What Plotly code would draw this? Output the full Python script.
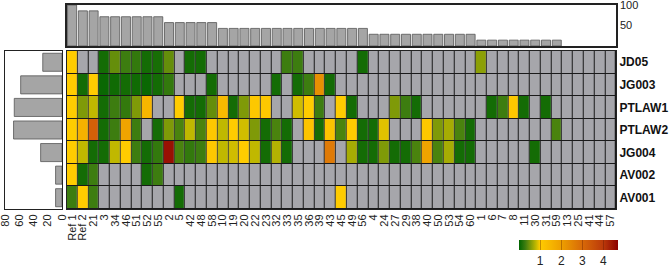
import plotly.graph_objects as go

columns = ["Ref 1", "Ref 2", "21", "3", "34", "46", "51", "52", "55", "2", "5", "42", "48", "58",
           "10", "19", "20", "22", "23", "32", "33", "35", "36", "39", "43", "45", "49", "56",
           "4", "24", "27", "29", "38", "40", "50", "53", "54", "60",
           "1", "6", "7", "8", "11", "30", "31", "59", "13", "25", "41", "44", "57"]
strains = ["JD05", "JG003", "PTLAW1", "PTLAW2", "JG004", "AV002", "AV001"]

N = None
jd05 = [1.0, N, N, 0.1, 0.45, 0.3, 0.25, 0.1, 0.12, 0.45, N, 0.1, 0.1, N,
        N, N, N, N, N, N, 0.3, 0.3, N, N, N, N, N, 0.1,
        N, N, N, N, N, N, N, N, N, N,
        0.6, N, N, N, N, N, N, N, N, N, N, N, N]
jg003 = [1.0, 0.1, 1.0, 0.05, 0.08, 0.1, 0.08, 0.05, 0.1, 0.25, N, N, N, 0.1,
         N, N, N, N, N, 0.1, N, 0.1, 0.3, 2.3, 0.1, N, N, N,
         N, N, N, N, N, N, N, N, N, N,
         N, N, N, N, N, N, N, N, N, N, N, N, N]
ptlaw1 = [1.0, 0.55, 0.8, 0.1, 0.3, 0.25, 0.55, 1.5, N, N, 1.0, 0.1, 0.1, 0.45,
          1.4, 0.1, 0.55, 1.1, 1.1, N, N, 0.85, 1.0, 0.3, N, 1.0, 0.1, N,
          N, N, 0.55, 0.3, 0.1, N, N, N, N, N,
          N, 0.1, 0.3, 1.1, 0.1, N, 0.1, N, N, N, N, N, N]
ptlaw2 = [1.0, 1.6, 3.2, 0.1, 0.3, 1.9, 0.3, N, 0.1, 0.55, 0.35, 0.8, 0.35, 1.1,
          0.8, 1.0, 0.85, 0.55, 0.1, 0.35, 0.1, N, 1.2, 0.1, 1.2, 0.35, 1.0, 0.1,
          0.1, 0.9, N, N, N, 1.1, 0.55, 0.7, 0.35, 0.1,
          N, N, N, N, N, N, N, 0.35, N, N, N, N, N]
jg004 = [1.0, 0.8, 0.1, 0.1, 0.8, 1.0, 0.3, 0.1, 0.25, 4.5, 0.35, 0.25, 0.3, 1.1,
         0.8, 0.85, 1.0, 0.8, 0.1, 0.75, 0.1, N, N, N, 2.7, N, 0.7, 0.1,
         0.1, 0.55, 0.1, 0.1, 0.35, 1.9, 0.35, 0.7, 0.1, 0.1,
         N, N, N, N, N, 0.1, N, N, N, N, N, N, N]
av002 = [1.0, 0.1, 0.3, N, N, N, N, 0.1, 0.3, N, N, N, N, N,
         N, N, N, N, N, N, N, N, N, N, N, N, N, N,
         N, N, N, N, N, N, N, N, N, N,
         N, N, N, N, N, N, N, N, N, N, N, N, N]
av001 = [0.3, 1.0, 0.3, N, N, N, N, N, N, N, 0.1, N, N, N,
         N, N, N, N, N, N, N, N, N, N, N, 1.0, N, N,
         N, N, N, N, N, N, N, N, N, N,
         N, N, N, N, N, N, N, N, N, N, N, N, N]

# column occupancy (%) shown above the heatmap; last five columns have no bar
top_values = [100, 85.7, 85.7, 71.4, 71.4, 71.4, 71.4, 71.4, 71.4,
              57.1, 57.1, 57.1, 57.1, 57.1,
              42.9, 42.9, 42.9, 42.9, 42.9, 42.9, 42.9, 42.9, 42.9, 42.9, 42.9, 42.9, 42.9, 42.9,
              28.6, 28.6, 28.6, 28.6, 28.6, 28.6, 28.6, 28.6, 28.6, 28.6,
              14.3, 14.3, 14.3, 14.3, 14.3, 14.3, 14.3, 14.3,
              N, N, N, N, N]
left_values = [27, 58, 67, 68, 30, 9, 9]

zrows = [jd05, jg003, ptlaw1, ptlaw2, jg004, av002, av001]
xi = list(range(len(columns)))
yi = list(range(len(strains)))

colorscale = [
    [0.0, "#006400"],
    [0.3 / 4.7, "#3d7d10"],
    [0.55 / 4.7, "#7f9a08"],
    [0.8 / 4.7, "#c0b800"],
    [1.0 / 4.7, "#ffcc00"],
    [2.0 / 4.7, "#eea000"],
    [3.0 / 4.7, "#d86a08"],
    [4.0 / 4.7, "#bb3a0a"],
    [1.0, "#8b0000"],
]

FONT = "Liberation Sans, Arial, sans-serif"
fig = go.Figure()

# grey base layer
fig.add_trace(go.Heatmap(
    x=xi, y=yi, z=[[1] * len(columns) for _ in strains],
    colorscale=[[0, "#a6a6ab"], [1, "#a6a6ab"]], showscale=False,
    xgap=1, ygap=1, hoverinfo="skip", xaxis="x", yaxis="y"))

fig.add_trace(go.Heatmap(
    x=xi, y=yi, z=zrows, zmin=0, zmax=4.7, colorscale=colorscale,
    xgap=1, ygap=1, xaxis="x", yaxis="y",
    colorbar=dict(orientation="h", x=0.85, xanchor="center", y=1 - 240 / 267, yanchor="top",
                  len=0.148, lenmode="fraction", thickness=10, outlinewidth=0,
                  xpad=0, ypad=0,
                  tickvals=[1, 2, 3, 4], ticks="inside", ticklen=10,
                  tickcolor="rgba(90,20,0,0.35)",
                  tickfont=dict(family=FONT, size=12, color="#222"))))

fig.add_trace(go.Bar(
    x=xi, y=top_values, width=0.84, marker=dict(color="#a5a5a5", line=dict(color="#555", width=0.8)),
    xaxis="x2", yaxis="y2", showlegend=False))

fig.add_trace(go.Bar(
    y=yi, x=left_values, orientation="h", width=0.8,
    marker=dict(color="#a5a5a5", line=dict(color="#555", width=0.8)),
    xaxis="x3", yaxis="y3", showlegend=False))

hx = [66.7 / 669, 616 / 669]
hy = [1 - 209 / 267, 1 - 51 / 267]

fig.add_shape(type="rect", xref="x", yref="y", x0=-0.5, x1=len(columns) - 0.5,
              y0=-0.5, y1=len(strains) - 0.5, fillcolor="#1a1a1a", line_width=0, layer="below")

fig.update_layout(
    width=669, height=267, margin=dict(l=0, r=0, t=0, b=0, autoexpand=False),
    paper_bgcolor="white", plot_bgcolor="white", showlegend=False,
    font=dict(family=FONT, color="#222"),
    xaxis=dict(domain=hx, range=[-0.5, len(columns) - 0.5], tickvals=xi, ticktext=columns,
               tickangle=-90, tickfont=dict(size=11), showline=True, mirror=True,
               linecolor="#222", linewidth=1, showgrid=False, zeroline=False, ticks="",
               automargin=False, ticklabeloverflow="allow"),
    yaxis=dict(domain=hy, range=[len(strains) - 0.5, -0.5], tickvals=yi, ticktext=strains,
               side="right", tickfont=dict(size=12, weight="bold", color="#111"),
               showline=True, mirror=True, linecolor="#222", linewidth=1,
               showgrid=False, zeroline=False, ticks="", automargin=False,
               ticklabeloverflow="allow"),
    xaxis2=dict(domain=hx, range=[-0.5, len(columns) - 0.5], anchor="y2",
                showticklabels=False, showline=True, mirror=True, linecolor="#222",
                linewidth=1.5, showgrid=False, zeroline=False, ticks="", automargin=False),
    yaxis2=dict(domain=[1 - 46 / 267, 1 - 5 / 267], range=[0, 100], anchor="x2",
                side="right", tickvals=[50, 100], tickfont=dict(size=11),
                showline=True, mirror=True, linecolor="#222", linewidth=1.5,
                showgrid=False, zeroline=False, ticks="", automargin=False,
                ticklabeloverflow="allow"),
    xaxis3=dict(domain=[5 / 669, 62 / 669], range=[80, 0], anchor="y3",
                tickvals=[0, 20, 40, 60, 80], tickangle=-90, tickfont=dict(size=11),
                showline=True, mirror=True, linecolor="#222", linewidth=1,
                showgrid=False, zeroline=False, ticks="", automargin=False,
                ticklabeloverflow="allow"),
    yaxis3=dict(domain=hy, range=[len(strains) - 0.5, -0.5], anchor="x3",
                showticklabels=False, showline=True, mirror=True, linecolor="#222",
                linewidth=1, showgrid=False, zeroline=False, ticks="", automargin=False),
)

fig.write_html("out.html", config={"displayModeBar": False},
               post_script="document.body.style.margin='0px';")
